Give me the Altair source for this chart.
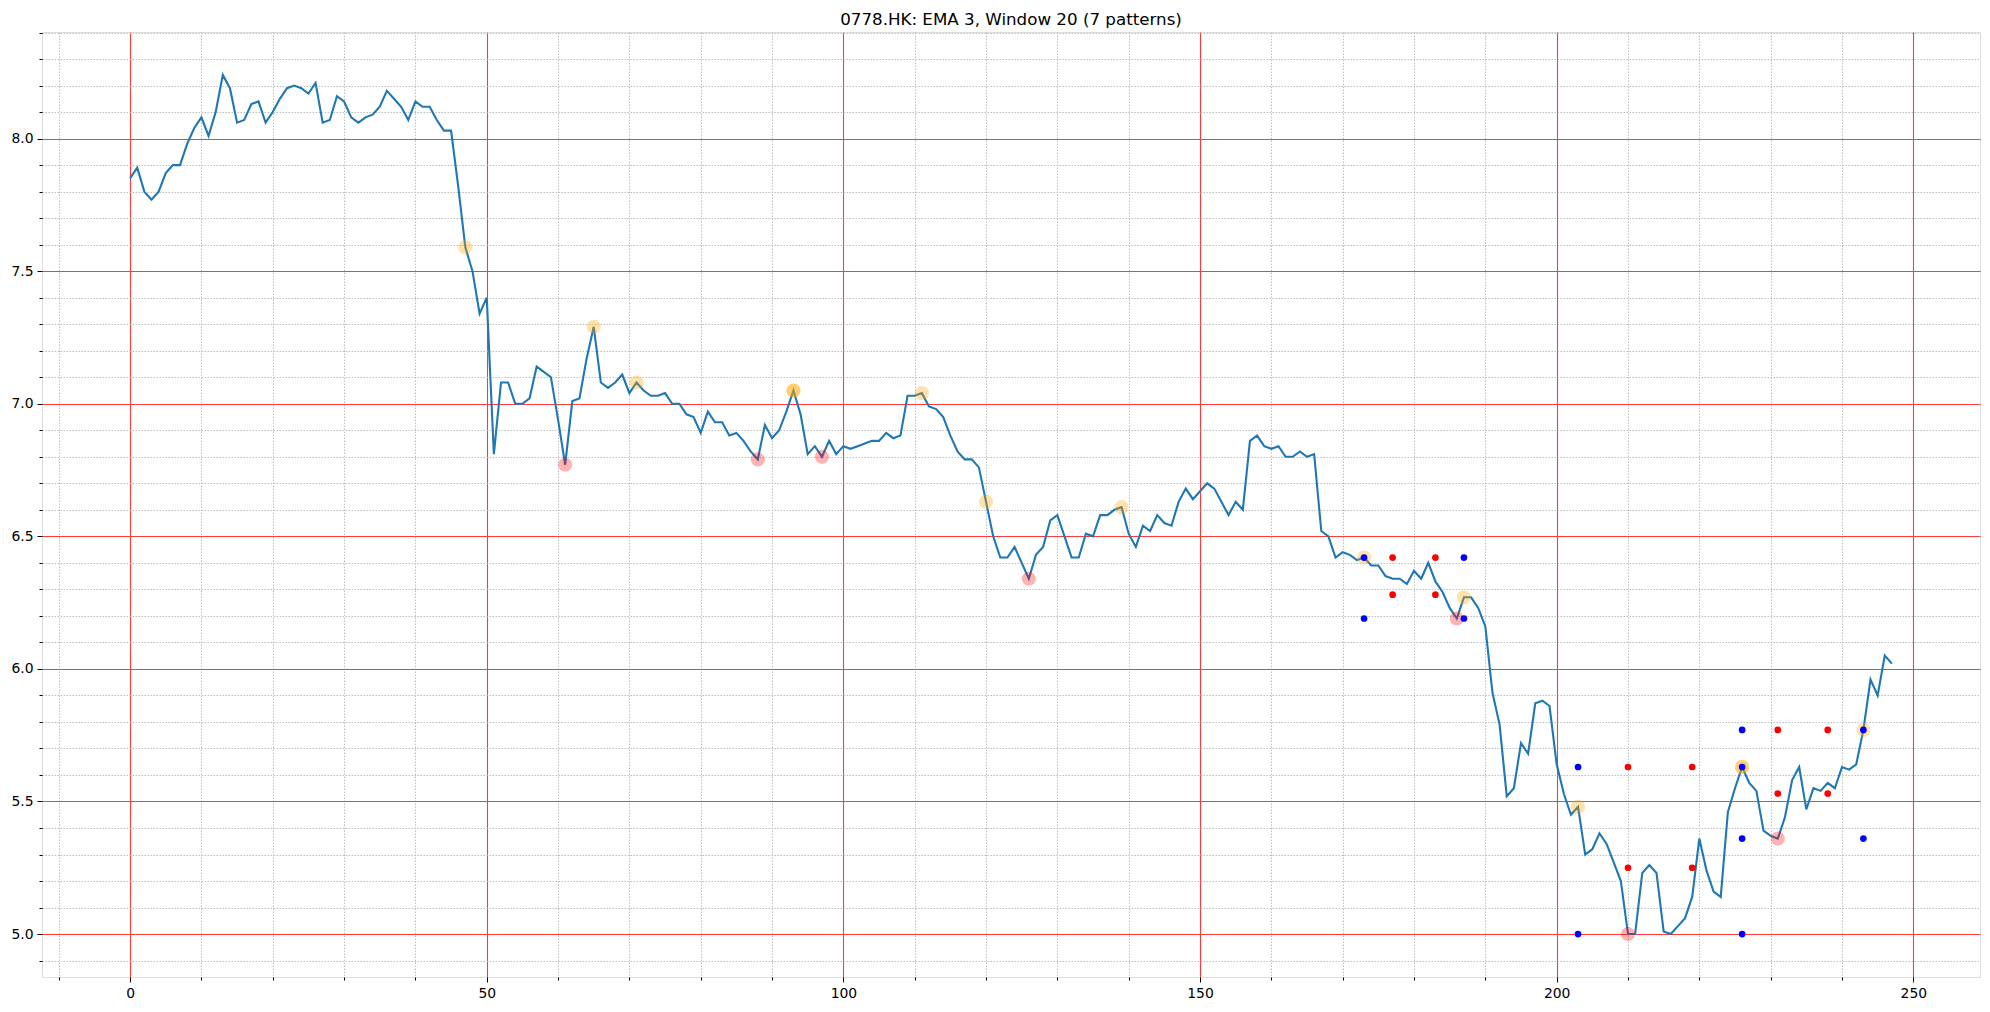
import altair as alt
import pandas as pd

TITLE = "0778.HK: EMA 3, Window 20 (7 patterns)"

# EMA series, index 0..247
ema = [
    7.85, 7.89, 7.80, 7.77, 7.80, 7.87, 7.90, 7.90, 7.98, 8.04,
    8.08, 8.01, 8.10, 8.24, 8.19, 8.06, 8.07, 8.13, 8.14, 8.06,
    8.10, 8.15, 8.19, 8.20, 8.19, 8.17, 8.21, 8.06, 8.07, 8.16,
    8.14, 8.08, 8.06, 8.08, 8.09, 8.12, 8.18, 8.15, 8.12, 8.07,
    8.14, 8.12, 8.12, 8.07, 8.03, 8.03, 7.82, 7.59, 7.50, 7.34,
    7.40, 6.81, 7.08, 7.08, 7.00, 7.00, 7.02, 7.14, 7.12, 7.10,
    6.94, 6.77, 7.01, 7.02, 7.17, 7.29, 7.08, 7.06, 7.08, 7.11,
    7.04, 7.08, 7.05, 7.03, 7.03, 7.04, 7.00, 7.00, 6.96, 6.95,
    6.89, 6.97, 6.93, 6.93, 6.88, 6.89, 6.86, 6.82, 6.79, 6.92,
    6.87, 6.90, 6.97, 7.05, 6.96, 6.81, 6.84, 6.80, 6.86, 6.81,
    6.84, 6.83, 6.84, 6.85, 6.86, 6.86, 6.89, 6.87, 6.88, 7.03,
    7.03, 7.04, 6.99, 6.98, 6.95, 6.88, 6.82, 6.79, 6.79, 6.76,
    6.63, 6.50, 6.42, 6.42, 6.46, 6.40, 6.34, 6.43, 6.46, 6.56,
    6.58, 6.50, 6.42, 6.42, 6.51, 6.50, 6.58, 6.58, 6.60, 6.61,
    6.51, 6.46, 6.54, 6.52, 6.58, 6.55, 6.54, 6.63, 6.68, 6.64,
    6.67, 6.70, 6.68, 6.63, 6.58, 6.63, 6.60, 6.86, 6.88, 6.84,
    6.83, 6.84, 6.80, 6.80, 6.82, 6.80, 6.81, 6.52, 6.50, 6.42,
    6.44, 6.43, 6.41, 6.42, 6.39, 6.39, 6.35, 6.34, 6.34, 6.32,
    6.37, 6.34, 6.40, 6.33, 6.29, 6.23, 6.19, 6.27, 6.27, 6.23,
    6.16, 5.91, 5.79, 5.52, 5.55, 5.72, 5.68, 5.87, 5.88, 5.86,
    5.64, 5.53, 5.45, 5.48, 5.30, 5.32, 5.38, 5.34, 5.27, 5.20,
    5.00, 5.00, 5.23, 5.26, 5.23, 5.01, 5.00, 5.03, 5.06, 5.14,
    5.36, 5.24, 5.16, 5.14, 5.46, 5.55, 5.63, 5.57, 5.54, 5.39,
    5.37, 5.36, 5.44, 5.58, 5.63, 5.47, 5.55, 5.54, 5.57, 5.55,
    5.63, 5.62, 5.64, 5.77, 5.96, 5.90, 6.05, 6.02,
]

# local extrema markers (indices into ema)
peak_idx = [47, 65, 71, 93, 93, 111, 120, 139, 173, 187, 203, 226, 226, 243]
trough_idx = [61, 88, 97, 126, 186, 210, 231]

# pattern points
blue_x = [173, 173, 187, 187, 203, 203, 226, 226, 226, 226, 243, 243]
blue_y = [6.42, 6.19, 6.42, 6.19, 5.63, 5.00, 5.63, 5.00, 5.77, 5.36, 5.77, 5.36]
red_x = [177, 177, 183, 183, 210, 210, 219, 219, 231, 231, 238, 238]
red_y = [6.42, 6.28, 6.42, 6.28, 5.63, 5.25, 5.63, 5.25, 5.77, 5.53, 5.77, 5.53]

# tick values
x_ticks = list(range(-10, 251, 10))
y_ticks = [round(4.9 + 0.1 * i, 1) for i in range(36)]

line_df = pd.DataFrame({"x": list(range(len(ema))), "y": ema})
peak_df = pd.DataFrame({"x": peak_idx, "y": [ema[i] for i in peak_idx]})
trough_df = pd.DataFrame({"x": trough_idx, "y": [ema[i] for i in trough_idx]})
blue_df = pd.DataFrame({"x": blue_x, "y": blue_y})
red_df = pd.DataFrame({"x": red_x, "y": red_y})

# matplotlib-like 5% margins
n = len(ema)
xm = (n - 1) * 0.05
ymin, ymax = min(ema), max(ema)
ymg = (ymax - ymin) * 0.05
x_dom = [0 - xm, (n - 1) + xm]
y_dom = [ymin - ymg, ymax + ymg]

MAJ_X = "datum.value % 50 === 0"
MAJ_Y = "abs(datum.value*2 - round(datum.value*2)) < 1e-6"

RED_GRID = "#ff3a3a"
MINOR_GRID = "#b8b8b8"

x_axis = alt.Axis(
    values=x_ticks,
    labelExpr=f"{MAJ_X} ? datum.label : ''",
    labelOverlap=False,
    labelFlush=False,
    labelFont="DejaVu Sans",
    labelFontSize=13.9,
    labelColor="black",
    labelPadding=4,
    domain=False,
    tickColor="black",
    tickSize={"condition": {"test": MAJ_X, "value": 5}, "value": 3},
    tickWidth=1,
    grid=True,
    gridColor={"condition": {"test": MAJ_X, "value": RED_GRID}, "value": MINOR_GRID},
    gridDash={"condition": {"test": MAJ_X, "value": []}, "value": [1.5, 1.5]},
    gridWidth={"condition": {"test": MAJ_X, "value": 1.1}, "value": 0.9},
    gridOpacity=1,
    title=None,
)

y_axis = alt.Axis(
    values=y_ticks,
    labelExpr=f"{MAJ_Y} ? format(datum.value, '.1f') : ''",
    labelOverlap=False,
    labelFlush=False,
    labelFont="DejaVu Sans",
    labelFontSize=13.9,
    labelColor="black",
    labelPadding=4,
    domain=False,
    tickColor="black",
    tickSize={"condition": {"test": MAJ_Y, "value": 5}, "value": 3},
    tickWidth=1,
    grid=True,
    gridColor={"condition": {"test": MAJ_Y, "value": RED_GRID}, "value": MINOR_GRID},
    gridDash={"condition": {"test": MAJ_Y, "value": []}, "value": [1.5, 1.5]},
    gridWidth={"condition": {"test": MAJ_Y, "value": 1.1}, "value": 0.9},
    gridOpacity=1,
    title=None,
)

X = alt.X("x:Q", scale=alt.Scale(domain=x_dom, nice=False, zero=False), axis=x_axis)
Y = alt.Y("y:Q", scale=alt.Scale(domain=y_dom, nice=False, zero=False), axis=y_axis)

line = alt.Chart(line_df).mark_line(color="#1f77b4", strokeWidth=2.1, clip=True).encode(x=X, y=Y)
peaks = alt.Chart(peak_df).mark_circle(color="#FFA500", opacity=0.33, size=200).encode(x=X, y=Y)
troughs = alt.Chart(trough_df).mark_circle(color="#FF0000", opacity=0.3, size=200).encode(x=X, y=Y)
blues = alt.Chart(blue_df).mark_circle(color="#0000FF", opacity=1, size=45).encode(x=X, y=Y)
reds = alt.Chart(red_df).mark_circle(color="#FF0000", opacity=1, size=45).encode(x=X, y=Y)

chart = alt.layer(line, peaks, troughs, blues, reds).properties(
    width=1938,
    height=945,
    title=alt.TitleParams(
        TITLE,
        font="DejaVu Sans",
        fontSize=16.7,
        fontWeight="normal",
        color="black",
        anchor="middle",
        offset=-3,
    ),
    autosize=alt.AutoSizeParams(type="none"),
    padding={"left": 34, "top": 24, "right": 2, "bottom": 22},
).configure_view(
    stroke="black", strokeWidth=1
).configure(
    background="white"
)

chart.save("out.html", embed_options={"renderer": "svg", "actions": False})
